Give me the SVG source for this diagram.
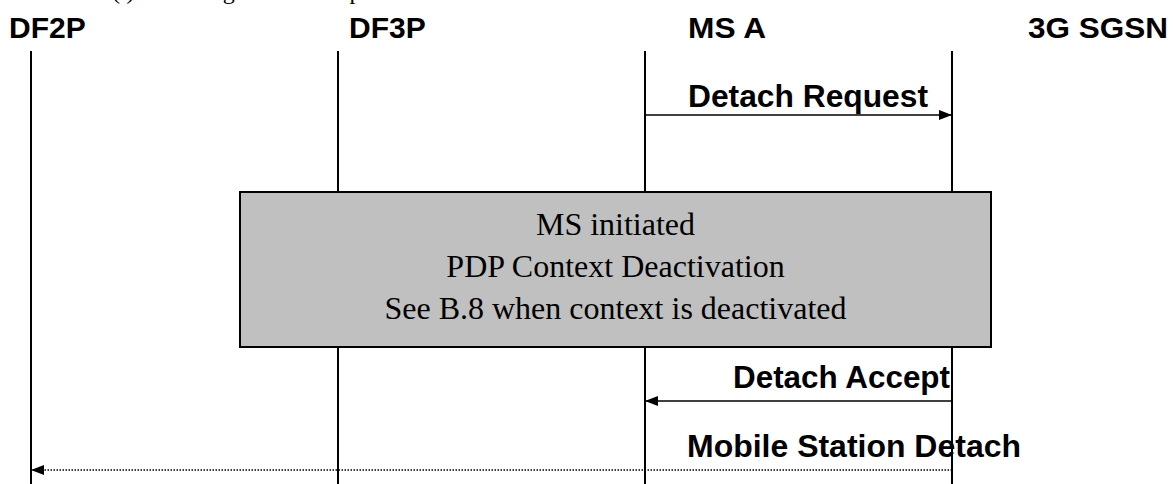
<svg xmlns="http://www.w3.org/2000/svg" width="1173" height="484" viewBox="0 0 1173 484">
<defs>
<style>
.hdr{font-family:"Liberation Sans",Arial,sans-serif;font-weight:bold;font-size:30px;fill:#000}
.lbl{font-family:"Liberation Sans",Arial,sans-serif;font-weight:bold;font-size:31px;fill:#000}
.box{font-family:"Liberation Serif","Times New Roman",serif;font-size:32px;fill:#000}
.cap{font-family:"Liberation Serif","Times New Roman",serif;font-size:24px;fill:#000}
.life{stroke:#000;stroke-width:2;fill:none}
.msg{stroke:#000;stroke-width:1.5;fill:none}
.dot{stroke:#000;stroke-width:1.5;fill:none;stroke-dasharray:1.5 1.5}
</style>
<marker id="ah" viewBox="0 0 13 10" refX="13" refY="5" markerWidth="13" markerHeight="10" markerUnits="userSpaceOnUse" orient="auto-start-reverse">
<path d="M0,0 L13,5 L0,10 Z" fill="#000"/>
</marker>
</defs>
<rect width="1173" height="484" fill="#fff"/>
<text class="cap" x="42" y="-1">Where (i) is the target of interception.</text>
<g id="DF2P">
<text class="hdr" x="9" y="38">DF2P</text>
<line class="life" x1="31" y1="51" x2="31" y2="484"/>
</g>
<g id="DF3P">
<text class="hdr" x="349" y="38">DF3P</text>
<line class="life" x1="338" y1="51" x2="338" y2="192"/>
<line class="life" x1="338" y1="347" x2="338" y2="484"/>
</g>
<g id="MSA">
<text class="hdr" x="688" y="38" textLength="78" lengthAdjust="spacingAndGlyphs">MS A</text>
<line class="life" x1="645" y1="51" x2="645" y2="192"/>
<line class="life" x1="645" y1="347" x2="645" y2="484"/>
</g>
<g id="SGSN">
<text class="hdr" x="1028" y="38" textLength="140" lengthAdjust="spacingAndGlyphs">3G SGSN</text>
<line class="life" x1="952" y1="51" x2="952" y2="192"/>
<line class="life" x1="952" y1="347" x2="952" y2="484"/>
</g>
<g id="deact">
<rect x="240" y="192" width="751" height="155" fill="#c0c0c0" stroke="#000" stroke-width="2"/>
<text class="box" x="615.5" y="235" text-anchor="middle">MS initiated</text>
<text class="box" x="615.5" y="277" text-anchor="middle">PDP Context Deactivation</text>
<text class="box" x="615.5" y="319" text-anchor="middle">See B.8 when context is deactivated</text>
</g>
<g id="connectors">
<line class="msg" x1="645" y1="115" x2="952" y2="115" marker-end="url(#ah)"/>
<text class="lbl" x="688" y="107" textLength="240" lengthAdjust="spacingAndGlyphs">Detach Request</text>
<line class="msg" x1="952" y1="401" x2="645" y2="401" marker-end="url(#ah)"/>
<text class="lbl" x="733" y="388" textLength="217" lengthAdjust="spacingAndGlyphs">Detach Accept</text>
<line class="dot" x1="952" y1="470" x2="31" y2="470" marker-end="url(#ah)"/>
<text class="lbl" x="687" y="457" textLength="334" lengthAdjust="spacingAndGlyphs">Mobile Station Detach</text>
</g>
</svg>
